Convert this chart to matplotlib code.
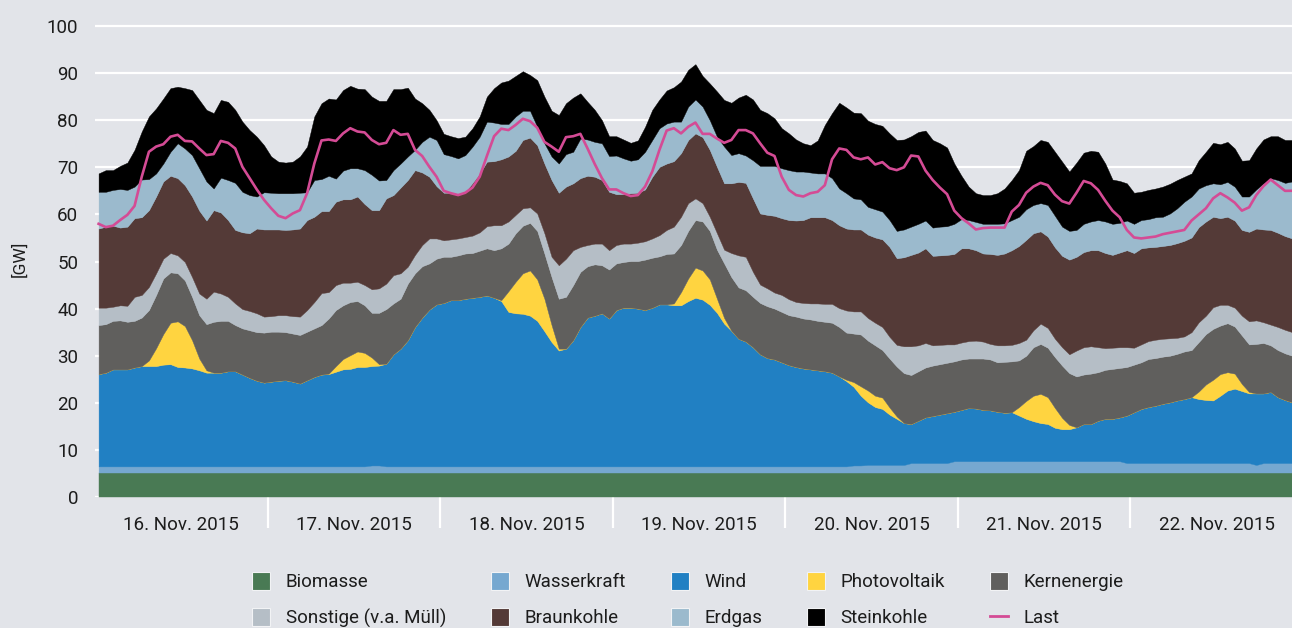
import numpy as np
import matplotlib
matplotlib.use("Agg")
import matplotlib.pyplot as plt
from matplotlib.patches import Patch
from matplotlib.lines import Line2D

plt.rcParams["font.family"] = ["Roboto", "DejaVu Sans"]

# hourly values in GW, 16.-22. Nov. 2015 (one row per day)
days = ["16. Nov. 2015", "17. Nov. 2015", "18. Nov. 2015", "19. Nov. 2015",
        "20. Nov. 2015", "21. Nov. 2015", "22. Nov. 2015"]

biomasse = (
    [5.2, 5.2, 5.2, 5.2, 5.2, 5.2, 5.2, 5.2, 5.2, 5.2, 5.2, 5.2, 5.2, 5.2, 5.2, 5.2, 5.2, 5.2, 5.2, 5.2, 5.2, 5.2, 5.2, 5.2]
    + [5.2, 5.2, 5.2, 5.2, 5.2, 5.2, 5.2, 5.2, 5.2, 5.2, 5.2, 5.2, 5.2, 5.2, 5.2, 5.2, 5.2, 5.2, 5.2, 5.2, 5.2, 5.2, 5.2, 5.2]
    + [5.2, 5.2, 5.2, 5.2, 5.2, 5.2, 5.2, 5.2, 5.2, 5.2, 5.2, 5.2, 5.2, 5.2, 5.2, 5.2, 5.2, 5.2, 5.2, 5.2, 5.2, 5.2, 5.2, 5.2]
    + [5.2, 5.2, 5.2, 5.2, 5.2, 5.2, 5.2, 5.2, 5.2, 5.2, 5.2, 5.2, 5.2, 5.2, 5.2, 5.2, 5.2, 5.2, 5.2, 5.2, 5.2, 5.2, 5.2, 5.2]
    + [5.2, 5.2, 5.2, 5.2, 5.2, 5.2, 5.2, 5.2, 5.2, 5.2, 5.2, 5.2, 5.2, 5.2, 5.2, 5.2, 5.2, 5.2, 5.2, 5.2, 5.2, 5.2, 5.2, 5.2]
    + [5.2, 5.2, 5.2, 5.2, 5.2, 5.2, 5.2, 5.2, 5.2, 5.2, 5.2, 5.2, 5.2, 5.2, 5.2, 5.2, 5.2, 5.2, 5.2, 5.2, 5.2, 5.2, 5.2, 5.2]
    + [5.2, 5.2, 5.2, 5.2, 5.2, 5.2, 5.2, 5.2, 5.2, 5.2, 5.2, 5.2, 5.2, 5.2, 5.2, 5.2, 5.2, 5.2, 5.2, 5.2, 5.2, 5.2, 5.2, 5.2]
)

wasserkraft = (
    [1.3, 1.3, 1.3, 1.3, 1.3, 1.3, 1.3, 1.3, 1.3, 1.3, 1.3, 1.3, 1.3, 1.3, 1.3, 1.3, 1.3, 1.3, 1.3, 1.3, 1.3, 1.3, 1.3, 1.3]
    + [1.3, 1.3, 1.3, 1.3, 1.3, 1.3, 1.3, 1.3, 1.3, 1.3, 1.3, 1.3, 1.3, 1.3, 1.5, 1.5, 1.3, 1.3, 1.3, 1.3, 1.3, 1.3, 1.3, 1.3]
    + [1.3, 1.3, 1.3, 1.3, 1.3, 1.3, 1.3, 1.3, 1.3, 1.3, 1.3, 1.3, 1.3, 1.3, 1.3, 1.3, 1.3, 1.3, 1.3, 1.3, 1.3, 1.3, 1.3, 1.3]
    + [1.3, 1.3, 1.3, 1.3, 1.3, 1.3, 1.3, 1.3, 1.3, 1.3, 1.3, 1.3, 1.3, 1.3, 1.3, 1.3, 1.3, 1.3, 1.3, 1.3, 1.3, 1.3, 1.3, 1.3]
    + [1.3, 1.3, 1.3, 1.3, 1.3, 1.3, 1.3, 1.3, 1.3, 1.5, 1.5, 1.6, 1.6, 1.6, 1.6, 1.6, 1.6, 2.0, 2.0, 2.0, 2.0, 2.0, 2.0, 2.4]
    + [2.4, 2.4, 2.4, 2.4, 2.4, 2.4, 2.4, 2.4, 2.4, 2.4, 2.4, 2.4, 2.4, 2.4, 2.4, 2.4, 2.4, 2.4, 2.4, 2.4, 2.4, 2.4, 2.4, 2.0]
    + [2.0, 2.0, 2.0, 2.0, 2.0, 2.0, 2.0, 2.0, 2.0, 2.0, 2.0, 2.0, 2.0, 2.0, 2.0, 2.0, 2.0, 1.6, 2.0, 2.0, 2.0, 2.0, 2.0, 2.0]
)

wind = (
    [19.6, 19.9, 20.6, 20.6, 20.6, 21.0, 21.3, 21.3, 21.3, 21.6, 21.7, 21.1, 21.0, 20.8, 20.4, 19.9, 19.9, 19.9, 20.2, 20.2, 19.5, 18.8, 18.2, 17.8]
    + [18.0, 18.2, 18.3, 18.0, 17.6, 18.3, 19.0, 19.5, 19.6, 20.1, 20.6, 20.7, 21.1, 21.1, 21.1, 21.2, 21.8, 23.8, 25.0, 26.8, 29.6, 31.6, 33.3, 34.4]
    + [34.7, 35.3, 35.3, 35.6, 35.8, 36.0, 36.3, 35.8, 35.1, 32.8, 32.5, 32.4, 32.0, 30.9, 28.7, 26.4, 24.6, 25.0, 26.8, 29.6, 31.6, 32.0, 32.5, 31.4]
    + [33.2, 33.7, 33.7, 33.5, 33.2, 33.7, 34.4, 34.4, 34.2, 34.2, 35.1, 35.8, 35.4, 34.3, 32.6, 30.3, 28.8, 27.1, 26.5, 25.3, 23.8, 23.0, 22.7, 22.1]
    + [21.5, 21.1, 20.8, 20.6, 20.4, 20.2, 19.9, 19.1, 18.1, 16.7, 14.8, 13.3, 12.3, 11.9, 10.7, 9.8, 8.9, 8.3, 9.0, 9.7, 10.0, 10.3, 10.6, 10.5]
    + [10.9, 11.3, 11.2, 10.9, 10.8, 10.5, 10.3, 10.4, 9.7, 9.0, 8.5, 8.1, 7.9, 7.1, 6.8, 6.8, 7.2, 7.9, 7.9, 8.6, 9.0, 9.0, 9.3, 10.1]
    + [10.8, 11.5, 11.9, 12.2, 12.6, 12.9, 13.3, 13.6, 14.0, 13.6, 13.4, 13.3, 14.3, 15.4, 15.8, 15.3, 14.8, 15.2, 14.8, 15.1, 14.0, 13.4, 12.9, 12.6]
)

photovoltaik = (
    [0, 0, 0, 0, 0, 0, 0, 1.2, 3.8, 6.5, 8.8, 9.7, 8.8, 6.0, 2.5, 0.5, 0, 0, 0, 0, 0, 0, 0, 0]
    + [0, 0, 0, 0, 0, 0, 0, 0, 0.1, 1.2, 2.2, 2.9, 3.3, 3.0, 1.8, 0.3, 0, 0, 0, 0, 0, 0, 0, 0]
    + [0, 0, 0, 0, 0, 0, 0, 0, 0.2, 4.4, 6.7, 8.6, 9.6, 8.8, 6.9, 3.6, 0.4, 0, 0, 0, 0, 0, 0, 0]
    + [0, 0, 0, 0, 0, 0, 0, 0, 0.4, 2.8, 4.8, 6.4, 6.2, 5.4, 3.0, 1.2, 0, 0, 0, 0, 0, 0, 0, 0]
    + [0, 0, 0, 0, 0, 0, 0, 0, 0.3, 1.0, 2.0, 2.5, 2.4, 2.4, 1.5, 0.5, 0, 0, 0, 0, 0, 0, 0, 0]
    + [0, 0, 0, 0, 0, 0, 0, 0, 1.8, 3.8, 5.4, 6.2, 5.7, 4.2, 2.4, 0.9, 0, 0, 0, 0, 0, 0, 0, 0]
    + [0, 0, 0, 0, 0, 0, 0, 0, 0, 1.6, 3.3, 4.4, 4.6, 3.9, 3.2, 1.5, 0.3, 0, 0, 0, 0, 0, 0, 0]
)

kernenergie = (
    [10.4, 10.3, 10.3, 10.4, 10.1, 9.9, 10.3, 10.7, 11.3, 11.8, 10.7, 10.2, 9.7, 9.2, 9.2, 9.8, 10.8, 11.0, 10.7, 9.8, 9.8, 10.1, 10.3, 10.6]
    + [10.6, 10.4, 10.2, 10.2, 10.3, 10.3, 10.3, 10.5, 11.7, 11.9, 11.4, 11.3, 10.7, 10.1, 9.5, 10.9, 11.6, 10.8, 10.6, 12.0, 11.4, 10.9, 9.8, 9.7]
    + [9.8, 9.2, 9.5, 9.6, 9.5, 9.8, 10.0, 10.1, 11.0, 10.1, 10.3, 10.1, 10.1, 10.3, 9.6, 10.2, 10.6, 11.0, 11.7, 11.7, 10.9, 10.9, 10.2, 10.4]
    + [9.9, 9.7, 9.9, 10.1, 10.7, 10.6, 10.2, 10.7, 10.6, 10.0, 10.1, 10.1, 10.4, 10.3, 10.4, 11.6, 11.4, 10.9, 10.9, 10.7, 10.9, 11.0, 10.8, 10.7]
    + [10.6, 10.7, 10.6, 10.6, 10.5, 10.5, 10.6, 10.5, 10.0, 10.3, 11.0, 10.6, 10.7, 10.1, 10.4, 10.6, 10.6, 10.4, 10.5, 10.6, 10.7, 10.7, 10.7, 10.7]
    + [10.7, 10.5, 10.6, 10.9, 10.8, 10.5, 10.8, 10.8, 9.9, 9.6, 10.3, 10.6, 10.5, 10.8, 11.1, 11.0, 10.8, 10.5, 10.7, 10.3, 10.4, 10.6, 10.5, 10.3]
    + [10.1, 9.9, 10.2, 10.1, 10.0, 9.9, 9.9, 10.1, 10.0, 10.5, 10.7, 10.8, 10.3, 10.4, 10.0, 10.3, 10.1, 10.5, 10.7, 9.9, 10.0, 9.9, 9.9, 9.8]
)

sonstige = (
    [3.7, 3.5, 3.0, 3.2, 3.4, 5.1, 4.8, 4.9, 4.6, 4.2, 4.1, 3.8, 3.9, 4.2, 4.6, 5.4, 6.4, 5.8, 5.1, 4.6, 4.1, 4.1, 4.0, 3.4]
    + [3.3, 3.5, 3.6, 3.7, 3.9, 4.6, 5.6, 6.8, 5.6, 5.3, 4.8, 4.1, 4.1, 4.3, 5.0, 5.2, 5.4, 6.0, 5.4, 3.6, 3.9, 4.5, 5.3, 4.3]
    + [3.5, 3.7, 3.6, 3.5, 3.7, 3.9, 4.7, 5.3, 4.9, 4.7, 3.9, 3.7, 3.3, 3.7, 4.3, 4.3, 7.1, 8.1, 7.4, 5.3, 4.5, 4.4, 4.6, 4.1]
    + [3.9, 3.9, 3.7, 3.9, 3.9, 4.1, 4.5, 5.1, 5.7, 6.0, 5.9, 4.6, 3.9, 3.0, 3.5, 2.9, 5.1, 6.8, 7.1, 5.3, 3.9, 3.8, 3.4, 3.6]
    + [3.4, 3.1, 3.3, 3.4, 3.7, 3.8, 4.0, 4.0, 4.7, 4.7, 4.9, 4.8, 4.8, 4.9, 4.6, 4.6, 5.7, 6.1, 5.5, 5.2, 4.3, 4.1, 3.9, 3.6]
    + [3.6, 3.7, 3.8, 3.6, 3.3, 3.6, 3.5, 3.5, 3.7, 3.4, 3.6, 4.3, 4.2, 3.9, 3.9, 4.0, 5.5, 5.8, 5.8, 5.3, 4.6, 4.5, 4.4, 4.2]
    + [3.6, 3.8, 3.8, 3.9, 3.8, 3.7, 3.4, 3.2, 3.8, 4.2, 3.9, 4.6, 4.4, 3.9, 4.0, 4.2, 4.9, 5.0, 4.4, 4.4, 4.9, 5.0, 5.0, 5.2]
)

braunkohle = (
    [16.8, 17.2, 17.2, 16.5, 16.8, 16.7, 16.5, 16.3, 16.3, 16.4, 16.4, 16.4, 16.3, 17.1, 17.6, 16.6, 17.3, 17.2, 16.3, 15.6, 16.3, 16.5, 18.0, 18.5]
    + [18.4, 18.2, 18.1, 18.4, 18.7, 19.1, 18.1, 17.4, 17.2, 17.7, 17.7, 17.7, 18.1, 17.2, 16.8, 16.6, 18.1, 17.0, 18.2, 18.4, 18.0, 15.4, 13.1, 11.1]
    + [10.1, 9.9, 9.2, 9.6, 11.2, 12.5, 13.7, 13.6, 14.0, 13.8, 13.6, 14.5, 14.8, 14.5, 14.8, 16.3, 15.4, 15.3, 14.2, 14.6, 14.7, 14.2, 13.5, 12.4]
    + [10.8, 10.5, 10.7, 10.6, 11.0, 13.1, 14.5, 14.1, 13.9, 13.5, 13.4, 13.8, 14.0, 14.2, 14.1, 14.1, 14.8, 15.6, 15.7, 15.6, 15.1, 15.6, 16.3, 16.3]
    + [16.8, 17.3, 17.6, 18.3, 18.3, 18.4, 17.8, 17.6, 17.4, 17.4, 17.4, 17.7, 18.1, 18.6, 19.1, 18.4, 18.9, 19.4, 19.7, 20.1, 19.0, 19.0, 19.0, 19.2]
    + [20.0, 19.7, 19.2, 18.7, 19.1, 19.2, 19.5, 20.1, 20.6, 21.2, 20.6, 19.6, 19.4, 19.4, 19.4, 20.1, 19.9, 20.2, 20.4, 20.6, 20.2, 19.7, 20.1, 20.6]
    + [20.1, 20.4, 19.9, 19.7, 19.7, 19.8, 20.1, 20.3, 20.1, 20.2, 20.0, 19.2, 18.4, 18.7, 18.5, 18.2, 19.0, 19.5, 19.7, 20.1, 20.0, 19.9, 19.9, 19.8]
)

erdgas = (
    [7.8, 7.4, 7.6, 8.2, 7.8, 6.7, 8.0, 6.6, 4.9, 3.8, 5.1, 7.4, 7.8, 8.8, 9.0, 8.3, 4.6, 7.4, 8.5, 10.0, 8.6, 8.1, 6.8, 7.9]
    + [7.8, 7.7, 7.8, 7.7, 7.6, 5.9, 7.8, 6.8, 7.5, 4.9, 6.1, 6.6, 6.0, 7.2, 7.5, 6.3, 3.9, 5.3, 5.1, 5.0, 4.3, 6.5, 8.5, 9.8]
    + [8.2, 7.8, 7.8, 7.8, 7.7, 7.8, 8.5, 8.2, 7.5, 6.9, 7.3, 6.2, 5.7, 3.9, 4.3, 5.0, 6.2, 6.9, 6.7, 8.4, 7.7, 7.4, 7.8, 7.6]
    + [8.2, 7.6, 6.9, 7.1, 8.0, 7.8, 8.2, 8.5, 8.4, 6.7, 7.1, 7.2, 6.5, 6.3, 6.4, 7.8, 6.0, 6.1, 5.8, 8.1, 10.1, 10.4, 10.6, 10.6]
    + [10.6, 10.4, 10.3, 9.5, 9.3, 9.3, 8.9, 7.8, 7.5, 6.6, 6.4, 5.9, 6.0, 5.9, 5.7, 5.8, 5.9, 6.0, 6.1, 5.9, 6.0, 6.1, 6.1, 6.4]
    + [6.2, 6.0, 6.0, 6.3, 6.4, 6.6, 6.4, 6.4, 6.2, 6.5, 6.0, 6.0, 6.7, 6.7, 6.2, 6.1, 5.7, 6.0, 6.1, 6.4, 6.7, 6.6, 6.3, 6.3]
    + [6.2, 6.0, 6.0, 6.3, 6.2, 6.7, 7.4, 8.3, 8.7, 8.2, 7.7, 7.1, 7.2, 7.4, 7.2, 7.1, 7.5, 8.3, 9.8, 11.0, 11.2, 11.3, 12.1, 12.2]
)

steinkohle = (
    [3.9, 4.6, 4.2, 4.9, 5.8, 7.8, 10.2, 13.3, 13.8, 13.8, 13.5, 12.0, 12.8, 13.8, 14.5, 15.2, 16.0, 16.5, 16.6, 15.5, 14.9, 13.8, 12.7, 10.0]
    + [7.7, 6.7, 6.5, 6.7, 7.7, 9.7, 13.5, 16.1, 16.4, 16.8, 17.1, 17.5, 16.9, 17.2, 16.6, 16.9, 16.8, 17.2, 15.8, 14.6, 10.9, 8.2, 5.7, 4.2]
    + [4.3, 4.2, 4.3, 3.9, 3.9, 4.3, 5.3, 7.3, 8.8, 9.2, 8.6, 8.4, 7.6, 9.9, 9.9, 9.7, 10.3, 10.8, 11.5, 9.6, 8.0, 6.8, 4.9, 4.2]
    + [4.1, 4.0, 3.8, 4.0, 5.3, 6.4, 6.1, 7.0, 7.3, 8.5, 7.8, 7.5, 6.5, 7.8, 9.6, 9.9, 11.1, 11.8, 12.9, 12.9, 11.9, 11.2, 10.1, 8.5]
    + [7.8, 6.8, 6.0, 5.8, 7.0, 10.3, 13.8, 18.2, 18.2, 18.2, 18.3, 18.3, 18.1, 18.2, 18.4, 19.3, 19.1, 19.2, 19.5, 19.1, 18.6, 17.7, 16.7, 12.8]
    + [9.2, 7.1, 6.1, 6.1, 6.1, 6.5, 7.4, 8.5, 9.9, 12.4, 12.5, 13.4, 13.4, 13.6, 13.8, 12.6, 14.3, 15.1, 15.0, 14.5, 12.3, 9.4, 8.9, 7.9]
    + [6.6, 6.0, 6.2, 6.1, 6.4, 6.3, 6.0, 5.3, 4.9, 6.0, 7.1, 8.6, 8.5, 8.5, 8.1, 7.6, 7.7, 8.7, 9.3, 8.9, 9.3, 9.1, 8.8, 8.7]
)

last = (
    [58.0, 57.3, 57.6, 58.8, 59.9, 61.8, 68.0, 73.3, 74.4, 74.9, 76.5, 76.9, 75.6, 75.5, 74.0, 72.6, 72.8, 75.6, 75.2, 74.0, 70.1, 67.7, 65.3, 63.1]
    + [61.3, 59.7, 59.2, 60.2, 60.9, 64.5, 70.8, 75.7, 75.9, 75.6, 77.2, 78.3, 77.6, 77.4, 75.8, 74.9, 75.2, 77.9, 76.9, 77.1, 73.7, 72.4, 70.1, 68.0]
    + [65.0, 64.5, 64.1, 64.6, 65.7, 68.0, 72.4, 76.6, 78.2, 77.9, 79.0, 80.3, 79.8, 78.4, 75.4, 74.4, 73.3, 76.4, 76.6, 77.1, 74.0, 70.7, 67.7, 65.3]
    + [65.3, 64.5, 63.9, 64.1, 65.9, 69.1, 73.7, 77.8, 78.3, 77.2, 78.6, 79.5, 77.1, 77.1, 76.1, 75.2, 75.8, 77.9, 77.9, 77.2, 75.1, 73.1, 72.4, 68.0]
    + [65.2, 64.1, 63.8, 64.5, 64.8, 66.2, 71.7, 74.0, 73.7, 72.1, 71.7, 72.1, 70.6, 71.1, 69.8, 69.4, 70.0, 72.5, 72.3, 69.3, 67.3, 65.7, 64.3, 60.8]
    + [59.2, 58.1, 56.8, 57.1, 57.2, 57.2, 57.2, 60.6, 62.0, 64.6, 65.9, 66.7, 66.2, 64.2, 62.8, 62.3, 64.6, 67.1, 66.6, 65.2, 62.9, 60.8, 59.4, 56.7]
    + [55.1, 54.9, 55.1, 55.3, 55.8, 56.1, 56.4, 56.7, 58.7, 60.0, 61.3, 63.4, 64.5, 63.6, 62.5, 60.8, 61.5, 64.1, 66.0, 67.4, 66.2, 65.0, 65.0, 65.2]
)

names = ["Biomasse", "Wasserkraft", "Wind", "Photovoltaik", "Kernenergie",
         "Sonstige (v.a. Müll)", "Braunkohle", "Erdgas", "Steinkohle"]
colors = ["#497a54", "#76a8d0", "#2180c3", "#ffd440", "#605f5d",
          "#b5bec6", "#543a37", "#9bbacd", "#000000"]
last_color = "#d44b95"
bg = "#e2e4e9"
txt = "#1c1c1c"

hours = np.arange(len(last))

fig = plt.figure(figsize=(12.92, 6.28), dpi=100, facecolor=bg)
ax = fig.add_axes([95 / 1292, 1 - 497 / 628, 1208 / 1292, 101 * 4.71 / 628])
ax.set_facecolor(bg)

ax.stackplot(hours, biomasse, wasserkraft, wind, photovoltaik, kernenergie,
             sonstige, braunkohle, erdgas, steinkohle,
             colors=colors, edgecolor="face", linewidth=0.3)
ax.plot(hours, last, color=last_color, lw=1.9, zorder=5)

ax.set_xlim(-0.5, 167.5)
ax.set_ylim(0, 101)
ax.set_yticks(range(0, 101, 10))
ax.grid(axis="y", color="white", lw=1.6)
ax.set_axisbelow(True)
for s in ax.spines.values():
    s.set_visible(False)
ax.tick_params(axis="y", length=0, pad=12, labelsize=13.5, labelcolor=txt)

ax.set_xticks(np.arange(11.5, 168, 24))
ax.set_xticklabels(days)
ax.set_xticks(np.arange(23.5, 167, 24), minor=True)
ax.tick_params(axis="x", which="major", length=0, pad=14, labelsize=13.5, labelcolor=txt)
ax.tick_params(axis="x", which="minor", length=22, width=1.6, color="white")

ax.set_ylabel("[GW]", fontsize=12.5, color=txt)
ax.yaxis.set_label_coords(-0.056, 0.5)

patches = [Patch(facecolor=c, edgecolor="#f2f3f5", linewidth=0.8) for c in colors]
line = Line2D([], [], color=last_color, lw=2)
# legend fills column by column
order = [0, 5, 1, 6, 2, 7, 3, 8, 4]
handles = [patches[i] for i in order] + [line]
labels = [names[i] for i in order] + ["Last"]
fig.legend(handles, labels, ncol=5, loc="upper left",
           bbox_to_anchor=(252 / 1292, 1 - 572 / 628), frameon=False,
           fontsize=13.5, labelcolor=txt, handlelength=0.96, handleheight=1.07,
           handletextpad=0.85, columnspacing=2.37, labelspacing=0.9,
           borderpad=0, borderaxespad=0)

fig.savefig("out.png", dpi=100, facecolor=bg)
